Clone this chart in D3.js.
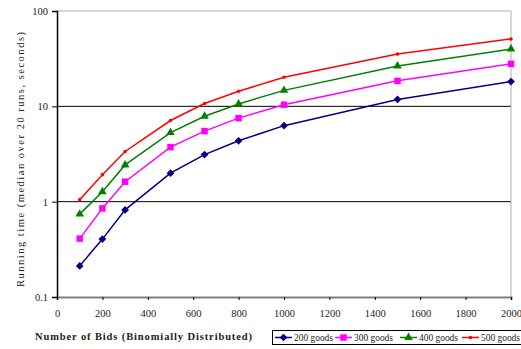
<html>
<head>
<script src="https://cdn.jsdelivr.net/npm/d3@7"></script>
<style>
body { margin:0; background:#fff; }
text { font-family: "Liberation Serif", serif; }
</style>
</head>
<body>
<svg width="521" height="349"></svg>
<script>
var bids = [100, 200, 300, 500, 650, 800, 1000, 1500, 2000];
var goods200 = [0.212, 0.405, 0.82, 1.99, 3.12, 4.35, 6.27, 11.8, 18.2];
var goods300 = [0.41, 0.85, 1.62, 3.73, 5.5, 7.52, 10.4, 18.5, 27.9];
var goods400 = [0.74, 1.27, 2.43, 5.3, 7.86, 10.6, 14.7, 26.5, 39.9];
var goods500 = [1.05, 1.92, 3.36, 7.1, 10.7, 14.4, 20.2, 35.3, 50.9];
var seriesNames = ["200 goods", "300 goods", "400 goods", "500 goods"];
var xTicks = [0, 200, 400, 600, 800, 1000, 1200, 1400, 1600, 1800, 2000];
var yTicks = [0.1, 1, 10, 100];

var series = [
  {name: seriesNames[0], values: goods200, color: "#000080", marker: "diamond", font: "Liberation Serif"},
  {name: seriesNames[1], values: goods300, color: "#FF00FF", marker: "square", font: "Liberation Sans"},
  {name: seriesNames[2], values: goods400, color: "#008000", marker: "triangle", font: "Liberation Sans"},
  {name: seriesNames[3], values: goods500, color: "#FF0000", marker: "dot", font: "Liberation Sans"}
];

var svg = d3.select("svg"),
  margin = {top: 11, left: 57, bottom: 52, right: 10},
  width = +svg.attr("width") - margin.left - margin.right,
  height = +svg.attr("height") - margin.top - margin.bottom,
  g = svg.append("g").attr("transform", "translate(" + margin.left + "," + margin.top + ")");

var x = d3.scaleLinear().domain([0, 2000]).range([0, width]);
var y = d3.scaleLog().domain([0.1, 100]).range([height, 0]);

function markerPath(type) {
  if (type == "square") return d3.symbol().type(d3.symbolSquare).size(42)();
  if (type == "triangle") return d3.symbol().type(d3.symbolTriangle).size(32)();
  if (type == "diamond") return d3.symbol().type(d3.symbolSquare).size(30)();
  return d3.symbol().type(d3.symbolCircle).size(10)();
}

// gridlines at 1 and 10
g.selectAll(".grid").data([1, 10]).enter().append("line")
  .attr("x1", 0).attr("x2", width)
  .attr("y1", function(d) { return y(d); }).attr("y2", function(d) { return y(d); })
  .attr("stroke", "#000").attr("stroke-width", 1);

// top and right border
g.append("path")
  .attr("d", "M0," + y(100) + "H" + width + "V" + height)
  .attr("fill", "none").attr("stroke", "#b0b0b0").attr("stroke-width", 1);

// x axis
var xAxis = g.append("g")
  .attr("transform", "translate(0," + height + ")")
  .call(d3.axisBottom(x).tickValues(xTicks).tickSize(3).tickPadding(10).tickFormat(d3.format("d")));
xAxis.select(".domain").attr("stroke", "#808080").attr("stroke-width", 2);
xAxis.selectAll(".tick line").attr("stroke", "#000");
xAxis.selectAll("text").attr("font-family", "Liberation Serif").attr("font-size", 10.5).attr("fill", "#222");

// y axis
var yAxis = g.append("g")
  .call(d3.axisLeft(y).tickValues(yTicks).tickSize(5).tickPadding(4).tickFormat(function(d) { return d; }));
yAxis.select(".domain").attr("stroke", "#000").attr("stroke-width", 1.5);
yAxis.selectAll("text").attr("font-family", "Liberation Serif").attr("font-size", 10.5).attr("fill", "#222");

var line = d3.line()
  .x(function(d, i) { return x(bids[i]); })
  .y(function(d) { return y(d); });

series.forEach(function(s) {
  g.append("path")
    .datum(s.values)
    .attr("fill", "none")
    .attr("stroke", s.color)
    .attr("stroke-width", 1.5)
    .attr("d", line);
  g.selectAll(null).data(s.values).enter().append("path")
    .attr("d", markerPath(s.marker))
    .attr("fill", s.color)
    .attr("transform", function(d, i) {
      return "translate(" + x(bids[i]) + "," + y(d) + ")" + (s.marker == "diamond" ? " rotate(45)" : "");
    });
});

// axis titles
svg.append("text")
  .attr("x", 35).attr("y", 340)
  .attr("font-weight", "bold")
  .attr("font-size", 10.5)
  .attr("textLength", 217).attr("lengthAdjust", "spacing")
  .attr("fill", "#222")
  .text("Number of Bids (Binomially Distributed)");

svg.append("text")
  .attr("transform", "translate(24,287) rotate(-90)")
  .attr("font-size", 10.5)
  .attr("textLength", 255).attr("lengthAdjust", "spacing")
  .attr("fill", "#222")
  .text("Running time (median over 20 runs, seconds)");

// legend
var legend = svg.append("g");
legend.append("rect")
  .attr("x", 272.5).attr("y", 330.5).attr("width", 260).attr("height", 14)
  .attr("fill", "#fff").attr("stroke", "#000").attr("stroke-width", 1);
var lx = [275, 335, 400, 462];
series.forEach(function(s, i) {
  var it = legend.append("g").attr("transform", "translate(" + lx[i] + ",337.5)");
  it.append("line").attr("x1", 0).attr("x2", 17).attr("stroke", s.color).attr("stroke-width", 1.5);
  it.append("path").attr("d", markerPath(s.marker)).attr("fill", s.color)
    .attr("transform", "translate(8.5,0)" + (s.marker == "diamond" ? " rotate(45)" : ""));
  it.append("text")
    .attr("x", 19).attr("y", 3.5)
    .attr("font-family", s.font)
    .attr("font-size", 10)
    .attr("textLength", 39).attr("lengthAdjust", "spacingAndGlyphs")
    .attr("fill", "#222")
    .text(s.name);
});
</script>
</body>
</html>
